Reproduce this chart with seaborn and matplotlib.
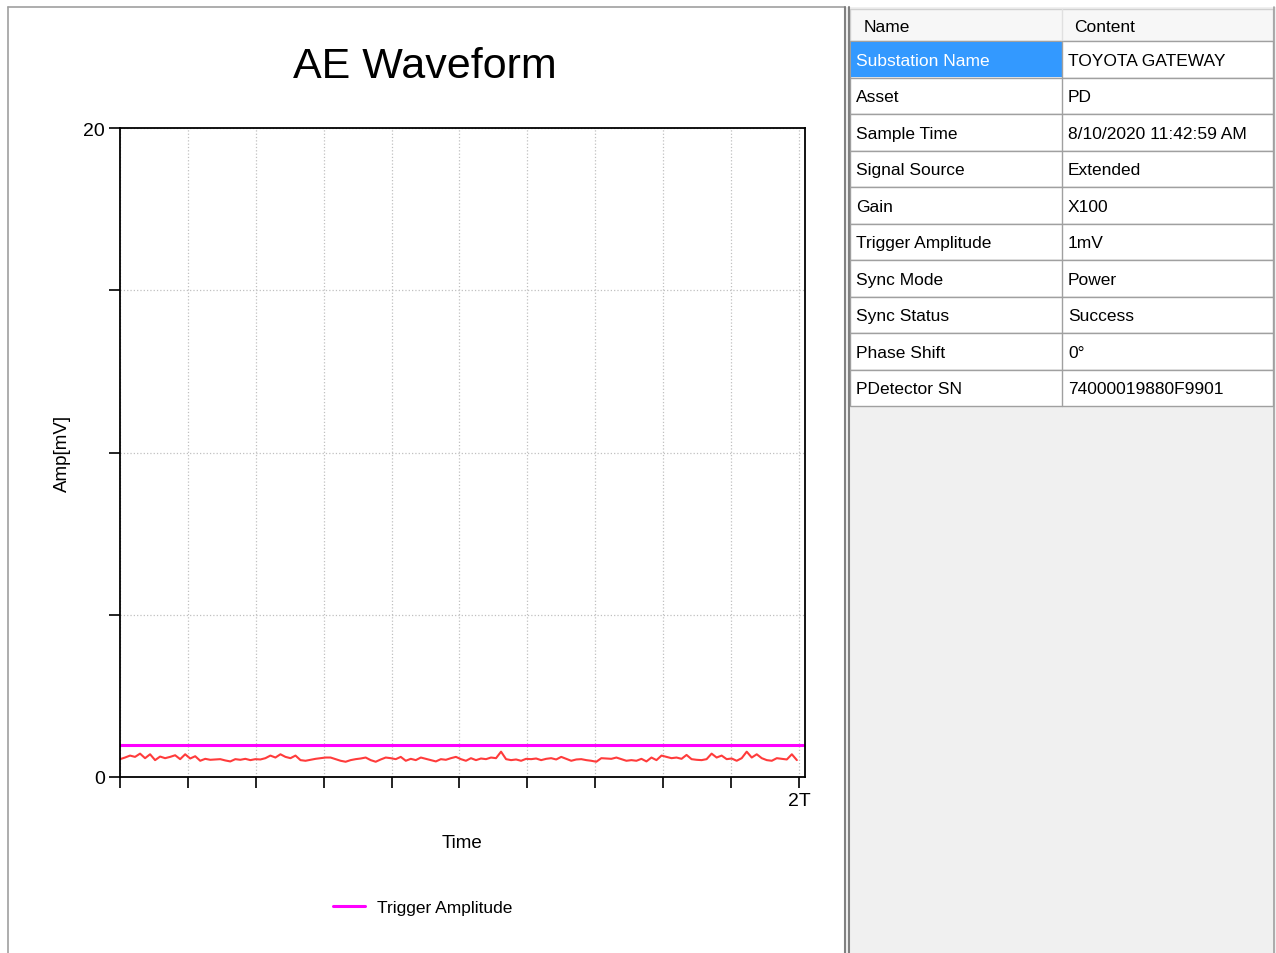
import numpy as np
import matplotlib
matplotlib.use("Agg")
import matplotlib.pyplot as plt
import seaborn as sns
from matplotlib.patches import Rectangle

# waveform samples (mV) left to right
WAVE_MV = [
    0.55, 0.60, 0.66, 0.62, 0.72, 0.58, 0.70, 0.52, 0.63, 0.58, 0.62, 0.67, 0.55, 0.70, 0.57, 0.64, 0.50,
    0.56, 0.53, 0.54, 0.55, 0.51, 0.48, 0.55, 0.53, 0.56, 0.52, 0.55, 0.54, 0.58, 0.66, 0.60, 0.70, 0.62,
    0.58, 0.66, 0.52, 0.50, 0.53, 0.56, 0.58, 0.60, 0.60, 0.55, 0.50, 0.47, 0.52, 0.55, 0.57, 0.60, 0.52,
    0.47, 0.54, 0.60, 0.58, 0.55, 0.62, 0.50, 0.56, 0.52, 0.60, 0.56, 0.52, 0.48, 0.55, 0.53, 0.58, 0.62,
    0.55, 0.50, 0.58, 0.52, 0.57, 0.55, 0.60, 0.58, 0.78, 0.55, 0.52, 0.54, 0.50, 0.56, 0.55, 0.57, 0.52,
    0.56, 0.58, 0.54, 0.62, 0.56, 0.50, 0.54, 0.55, 0.52, 0.50, 0.47, 0.58, 0.57, 0.56, 0.60, 0.55, 0.50,
    0.52, 0.50, 0.56, 0.48, 0.60, 0.52, 0.66, 0.62, 0.58, 0.60, 0.56, 0.68, 0.55, 0.53, 0.52, 0.55, 0.72,
    0.60, 0.66, 0.55, 0.57, 0.50, 0.58, 0.78, 0.60, 0.70, 0.58, 0.52, 0.50, 0.58, 0.56, 0.54, 0.70, 0.52,
]
TRACE_END = 9.97          # last sample position in tick units (10 = 2T)
TRIGGER_MV = 1.0

Y_TICKS = [0, 5, 10, 15, 20]
Y_LABELS = ["0", "", "", "", "20"]
X_TICKS = list(range(11))
X_LABELS = [""] * 10 + ["2T"]

INFO_NAMES = ["Substation Name", "Asset", "Sample Time", "Signal Source", "Gain",
              "Trigger Amplitude", "Sync Mode", "Sync Status", "Phase Shift", "PDetector SN"]
INFO_VALUES = ["TOYOTA GATEWAY", "PD", "8/10/2020 11:42:59 AM", "Extended", "X100",
               "1mV", "Power", "Success", "0°", "74000019880F9901"]

sns.set_style("white")
plt.rcParams["font.family"] = ["Liberation Sans", "DejaVu Sans"]
plt.rcParams["text.color"] = "black"
plt.rcParams["axes.labelcolor"] = "black"
plt.rcParams["xtick.color"] = "black"
plt.rcParams["ytick.color"] = "black"

fig = plt.figure(figsize=(12.76, 9.54), dpi=100)
ax = fig.add_axes([120 / 1276, 1 - 778 / 954, 685 / 1276, 649 / 954])

t = np.linspace(0, TRACE_END, len(WAVE_MV))
sns.lineplot(x=t, y=WAVE_MV, ax=ax, color="#FF3B3B", linewidth=1.5)
ax.axhline(TRIGGER_MV, xmin=0, xmax=0.997, color="#FF00FF", linewidth=2.2,
           label="Trigger Amplitude")

ax.set_xlim(0, 10.09)
ax.set_ylim(0, 20)
ax.set_xticks(X_TICKS)
ax.set_xticklabels(X_LABELS, fontsize=14)
ax.set_yticks(Y_TICKS)
ax.set_yticklabels(Y_LABELS, fontsize=14)
ax.tick_params(axis="both", direction="out", length=8, width=1.2, color="black", pad=3)
ax.xaxis.set_ticks_position("bottom")
ax.yaxis.set_ticks_position("left")
ax.grid(True, linestyle=":", color="#C0C0C0", linewidth=0.9)
for s in ax.spines.values():
    s.set_color("black")
    s.set_linewidth(1.3)

ax.set_xlabel("Time", fontsize=13.5, labelpad=18)
ax.set_ylabel("Amp[mV]", fontsize=13.5, labelpad=9)
fig.text(425 / 1276, 1 - 67 / 954, "AE Waveform", fontsize=31, ha="center", va="center")
ax.legend(loc="upper center", bbox_to_anchor=(0.442, -0.165), frameon=False,
          fontsize=12.5, handlelength=1.8, handletextpad=0.7)

# overlay in pixel coordinates for the panel frames and the info table
ov = fig.add_axes([0, 0, 1, 1], zorder=-1)
ov.set_xlim(0, 1276)
ov.set_ylim(954, 0)
ov.axis("off")

ov.plot([8, 8], [8, 954], color="#A0A0A0", lw=1.2)
ov.plot([8, 845], [8, 8], color="#A0A0A0", lw=1.2)
ov.add_patch(Rectangle((846, 8), 430, 946, facecolor="#F0F0F0", edgecolor="none"))
ov.plot([845, 845], [8, 954], color="#808080", lw=1.5)
ov.plot([849, 849], [8, 954], color="#808080", lw=1.5)
ov.plot([1274, 1274], [8, 954], color="#A0A0A0", lw=1.2)

col_x, split_x, right_x = 850, 1062, 1273
top, head_h, row_h = 10, 32, 36.5
ov.add_patch(Rectangle((col_x, top), right_x - col_x, head_h, facecolor="#F7F7F7",
                       edgecolor="#D0D0D0", lw=1))
ov.plot([split_x, split_x], [top, top + head_h], color="#E0E0E0", lw=1)
ov.text(864, top + head_h / 2 + 1, "Name", fontsize=12.5, va="center")
ov.text(1074, top + head_h / 2 + 1, "Content", fontsize=12.5, va="center")

for i, (name, value) in enumerate(zip(INFO_NAMES, INFO_VALUES)):
    y0 = top + head_h + i * row_h
    ov.add_patch(Rectangle((col_x, y0), right_x - col_x, row_h, facecolor="white",
                           edgecolor="#A0A0A0", lw=1))
    if i == 0:
        ov.add_patch(Rectangle((col_x + 1, y0 + 1), split_x - col_x - 1, row_h - 2,
                               facecolor="#3399FF", edgecolor="none"))
    ov.plot([split_x, split_x], [y0, y0 + row_h], color="#A0A0A0", lw=1)
    ov.text(856, y0 + row_h / 2 + 1, name, fontsize=12.5, va="center",
            color="white" if i == 0 else "black")
    ov.text(1068, y0 + row_h / 2 + 1, value, fontsize=12.5, va="center", color="black")

fig.savefig("out.png", dpi=100)
